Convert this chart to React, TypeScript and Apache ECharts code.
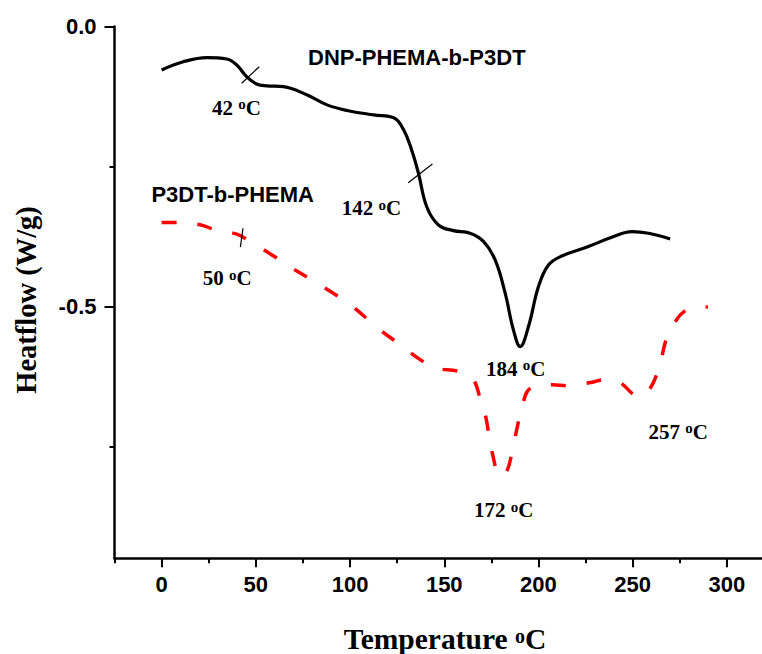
import React, { useEffect, useRef } from 'react';
import * as echarts from 'echarts';

const blackX = [0, 11.5, 24, 34.6, 39.9, 45.1, 50.4, 55.8, 64.7, 77, 87.8, 98.4, 112.6, 123.2, 128.5, 132.7, 136.3, 140.7, 146.9, 154.8, 163.7, 170.8, 177, 182.3, 186.7, 190.3, 194.7, 200, 205.3, 212.4, 226.5, 238.9, 249.6, 258.4, 269.9];
const blackY = [-0.0777, -0.063, -0.0557, -0.058, -0.0688, -0.0896, -0.1027, -0.106, -0.1075, -0.122, -0.14, -0.15, -0.158, -0.163, -0.185, -0.2205, -0.262, -0.322, -0.3545, -0.3646, -0.3693, -0.384, -0.417, -0.476, -0.542, -0.572, -0.536, -0.4646, -0.426, -0.41, -0.393, -0.3765, -0.3664, -0.3693, -0.3795];

const redX = [0, 8, 20.4, 27.4, 39.9, 47, 59.4, 66.5, 78.9, 86.9, 100, 116, 126.8, 137.4, 145.4, 157.8, 164.9, 169.3, 172, 175.5, 180, 183.5, 186.2, 188.8, 191.5, 195.9, 207.4, 215.4, 227.8, 234.9, 242, 253.5, 258.8, 264.2, 267.7, 272.1, 277.4, 284.6, 289.9];
const redY = [-0.35, -0.35, -0.354, -0.362, -0.371, -0.384, -0.41, -0.426, -0.451, -0.4675, -0.497, -0.542, -0.569, -0.5955, -0.61, -0.616, -0.628, -0.667, -0.697, -0.762, -0.804, -0.792, -0.756, -0.715, -0.676, -0.646, -0.64, -0.642, -0.636, -0.631, -0.634, -0.661, -0.649, -0.607, -0.56, -0.53, -0.509, -0.501, -0.501];

const xMajorTicks = [0, 50, 100, 150, 200, 250, 300];
const xMinorTicks = [-25, 25, 75, 125, 175, 225, 275, 325];
const yMajorTicks = [0, -0.5];
const yMinorTicks = [-0.25, -0.75];

const seriesNames = ['DNP-PHEMA-b-P3DT', 'P3DT-b-PHEMA'];
const seriesNameX = [77.7, -5.4];
const seriesNameY = [-0.0545, -0.301];

const peakTemps = [42, 142, 184, 50, 172, 257];
const peakLabelX = [26.7, 95.6, 172.2, 21.8, 165.8, 258.4];
const peakLabelY = [-0.145, -0.325, -0.611, -0.45, -0.864, -0.724];

const blackMarks = [
  [[42.5, -0.1014], [51.8, -0.0718]],
  [[130.9, -0.279], [143.7, -0.2455]],
];
const redMarks = [[[43.2, -0.3604], [41.8, -0.394]]];

const SANS = '"Liberation Sans", Arial, sans-serif';
const SERIF = '"Liberation Serif", "Times New Roman", serif';

export default function App() {
  const ref = useRef<HTMLDivElement>(null);
  useEffect(() => {
    if (!ref.current) return;
    const chart = echarts.init(ref.current, undefined, { renderer: 'svg' });
    const markLine = (marks: number[][][]) => ({
      silent: true,
      symbol: ['none', 'none'],
      label: { show: false },
      lineStyle: { color: '#000', width: 1.2, type: 'solid', opacity: 1 },
      data: marks.map((m) => [{ coord: m[0] }, { coord: m[1] }]),
    });
    chart.setOption({
      animation: false,
      backgroundColor: '#fff',
      grid: {
        left: 114.5,
        top: 26.5,
        right: -12,
        bottom: 95.7,
        containLabel: false,
        outerBoundsMode: 'none',
      },
      xAxis: [
        {
          type: 'value',
          min: -25,
          max: 325,
          axisLine: { show: true, onZero: false, lineStyle: { color: '#000', width: 2.5 } },
          axisTick: { show: true, customValues: xMajorTicks, length: 9, lineStyle: { color: '#000', width: 2 } },
          axisLabel: {
            show: true,
            customValues: xMajorTicks,
            margin: 15,
            color: '#000',
            fontFamily: SANS,
            fontWeight: 'bold',
            fontSize: 22,
          },
          splitLine: { show: false },
        },
        {
          type: 'value',
          min: -25,
          max: 325,
          position: 'bottom',
          axisLine: { show: false, onZero: false },
          axisTick: { show: true, customValues: xMinorTicks, length: 5, lineStyle: { color: '#000', width: 2 } },
          axisLabel: { show: false },
          splitLine: { show: false },
        },
      ],
      yAxis: [
        {
          type: 'value',
          min: -0.95,
          max: 0,
          axisLine: { show: true, onZero: false, lineStyle: { color: '#000', width: 2.5 } },
          axisTick: { show: true, customValues: yMajorTicks, length: 10, lineStyle: { color: '#000', width: 2 } },
          axisLabel: {
            show: true,
            customValues: yMajorTicks,
            formatter: (v: number) => v.toFixed(1),
            margin: 18,
            color: '#000',
            fontFamily: SANS,
            fontWeight: 'bold',
            fontSize: 22,
          },
          splitLine: { show: false },
        },
        {
          type: 'value',
          min: -0.95,
          max: 0,
          position: 'left',
          axisLine: { show: false, onZero: false },
          axisTick: { show: true, customValues: yMinorTicks, length: 5, lineStyle: { color: '#000', width: 2 } },
          axisLabel: { show: false },
          splitLine: { show: false },
        },
      ],
      series: [
        {
          type: 'line',
          name: seriesNames[0],
          data: blackX.map((x, i) => [x, blackY[i]]),
          showSymbol: false,
          symbol: 'none',
          smooth: 0.4,
          lineStyle: { color: '#000', width: 3.2 },
          markLine: markLine(blackMarks),
        },
        {
          type: 'line',
          name: seriesNames[1],
          data: redX.map((x, i) => [x, redY[i]]),
          showSymbol: false,
          symbol: 'none',
          smooth: 0.4,
          lineStyle: { color: '#ff0000', width: 3.5, type: [15, 21], cap: 'butt' },
          markLine: markLine(redMarks),
        },
        {
          type: 'scatter',
          silent: true,
          symbolSize: 0,
          itemStyle: { color: '#000', opacity: 1 },
          data: seriesNames.map((n, i) => ({ name: n, value: [seriesNameX[i], seriesNameY[i]] })),
          label: {
            show: true,
            position: [0, 0],
            align: 'left',
            verticalAlign: 'middle',
            formatter: '{b}',
            color: '#000',
            opacity: 1,
            fontFamily: SANS,
            fontWeight: 'bold',
            fontSize: 22,
          },
        },
        {
          type: 'scatter',
          silent: true,
          symbolSize: 0,
          itemStyle: { color: '#000', opacity: 1 },
          data: peakTemps.map((t, i) => ({ name: String(t), value: [peakLabelX[i], peakLabelY[i]] })),
          label: {
            show: true,
            position: [0, 0],
            align: 'left',
            verticalAlign: 'middle',
            opacity: 1,
            formatter: (p: any) => `{n|${p.name} }{s|o}{n|C}`,
            rich: {
              n: { fontFamily: SERIF, fontWeight: 'bold', fontSize: 21, lineHeight: 22, color: '#000' },
              s: { fontFamily: SERIF, fontWeight: 'bold', fontSize: 15, lineHeight: 14, verticalAlign: 'top', color: '#000' },
            },
          },
        },
      ],
      graphic: [
        {
          type: 'text',
          x: 26,
          y: 300,
          rotation: Math.PI / 2,
          style: {
            text: 'Heatflow (W/g)',
            font: `bold 28.5px ${SERIF}`,
            fill: '#000',
            align: 'center',
            verticalAlign: 'middle',
          },
        },
        {
          type: 'text',
          x: 445,
          y: 639,
          style: {
            text: '{n|Temperature }{s|o}{n|C}',
            align: 'center',
            verticalAlign: 'middle',
            rich: {
              n: { fontFamily: SERIF, fontWeight: 'bold', fontSize: 29.5, lineHeight: 26, fill: '#000' },
              s: { fontFamily: SERIF, fontWeight: 'bold', fontSize: 20, lineHeight: 6, verticalAlign: 'top', fill: '#000' },
            },
          },
        },
      ],
    });
    return () => chart.dispose();
  }, []);
  return (
    <div
      ref={ref}
      style={{ position: 'absolute', left: 0, top: 0, width: 762, height: 654, background: '#fff' }}
    />
  );
}
